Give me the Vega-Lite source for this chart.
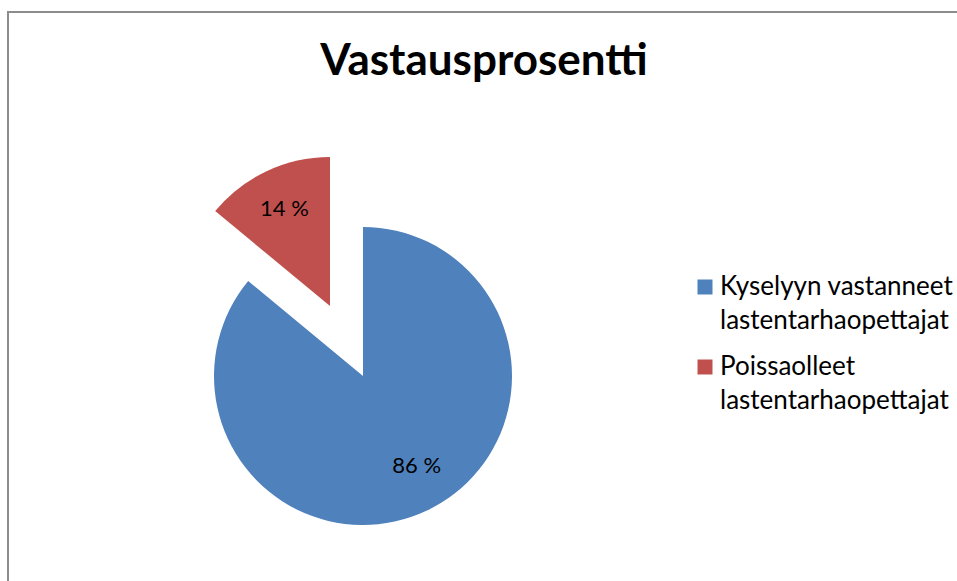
{
  "$schema": "https://vega.github.io/schema/vega-lite/v6.json",
  "autosize": "none",
  "padding": {"left": 8, "top": 12, "right": 0, "bottom": 0},
  "width": 952,
  "height": 572,
  "background": "white",
  "title": {
    "text": "Vastausprosentti",
    "font": "Lato",
    "fontSize": 44,
    "fontWeight": "bold",
    "color": "#000000",
    "anchor": "middle",
    "baseline": "alphabetic",
    "offset": -107
  },
  "data": {
    "values": [
      {"category": "Kyselyyn vastanneet lastentarhaopettajat", "value": 86},
      {"category": "Poissaolleet lastentarhaopettajat", "value": 14}
    ]
  },
  "transform": [
    {"stack": "value", "groupby": [], "as": ["v0", "v1"]},
    {"calculate": "(datum.v0 + datum.v1) / 2", "as": "vm"},
    {"calculate": "datum.value + ' %'", "as": "label"}
  ],
  "encoding": {
    "x": {"datum": 0.3729, "type": "quantitative", "scale": {"domain": [0, 1], "nice": false, "zero": false}, "axis": null},
    "y": {"datum": 0.6364, "type": "quantitative", "scale": {"domain": [0, 1], "nice": false, "zero": false, "reverse": true}, "axis": null}
  },
  "layer": [
    {
      "transform": [{"filter": "datum.category == 'Kyselyyn vastanneet lastentarhaopettajat'"}],
      "mark": {"type": "arc", "radius": 149},
      "encoding": {
        "theta": {"field": "v0", "type": "quantitative", "scale": {"domain": [0, 100]}},
        "theta2": {"field": "v1"},
        "color": {
          "field": "category",
          "type": "nominal",
          "scale": {
            "domain": ["Kyselyyn vastanneet lastentarhaopettajat", "Poissaolleet lastentarhaopettajat"],
            "range": ["#4F81BD", "#C0504D"]
          },
          "legend": {
            "title": null,
            "orient": "none",
            "legendX": 684,
            "legendY": 262,
            "symbolType": "square",
            "symbolSize": 225,
            "symbolStrokeWidth": 0,
            "symbolOpacity": 1,
            "labelFont": "Lato",
            "labelFontSize": 26,
            "labelColor": "#000000",
            "labelBaseline": "middle",
            "labelOffset": 2,
            "labelLimit": 400,
            "rowPadding": 20,
            "labelExpr": "split(replace(datum.label, ' lastentarhaopettajat', '|lastentarhaopettajat'), '|')"
          }
        }
      }
    },
    {
      "transform": [{"filter": "datum.category == 'Poissaolleet lastentarhaopettajat'"}],
      "mark": {"type": "arc", "radius": 149, "xOffset": -33, "yOffset": -70},
      "encoding": {
        "theta": {"field": "v0", "type": "quantitative", "scale": {"domain": [0, 100]}},
        "theta2": {"field": "v1"},
        "color": {"field": "category", "type": "nominal"}
      }
    },
    {
      "transform": [{"filter": "datum.category == 'Kyselyyn vastanneet lastentarhaopettajat'"}],
      "mark": {"type": "text", "radius": 105, "font": "Lato", "fontSize": 22, "color": "#000000", "dx": 9, "dy": -5},
      "encoding": {
        "theta": {"field": "vm", "type": "quantitative", "scale": {"domain": [0, 100]}},
        "text": {"field": "label"}
      }
    },
    {
      "transform": [{"filter": "datum.category == 'Poissaolleet lastentarhaopettajat'"}],
      "mark": {"type": "text", "radius": 107, "font": "Lato", "fontSize": 22, "color": "#000000", "xOffset": -33, "yOffset": -70},
      "encoding": {
        "theta": {"field": "vm", "type": "quantitative", "scale": {"domain": [0, 100]}},
        "text": {"field": "label"}
      }
    }
  ],
  "config": {
    "view": {"stroke": "#8c8c8c", "strokeWidth": 2},
    "style": {"guide-label": {"lineHeight": 34}}
  }
}
